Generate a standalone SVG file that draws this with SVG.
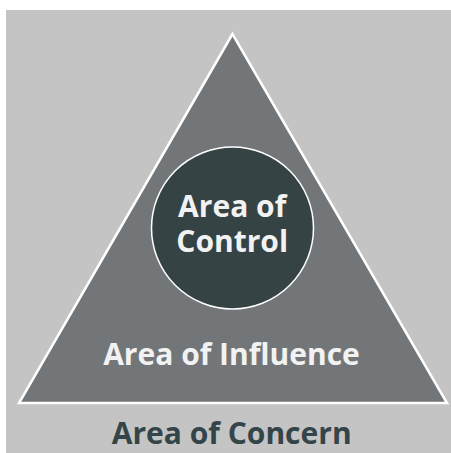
<svg xmlns="http://www.w3.org/2000/svg" width="451" height="453" viewBox="0 0 451 453">
<style>
.t{font-family:"Open Sans","Liberation Sans",sans-serif;font-weight:bold;text-anchor:middle;font-size:30px}
.w{fill:#f2f2f2}
</style>
<rect x="0" y="0" width="451" height="453" fill="#ffffff"/>
<g id="concern">
<rect x="6" y="10" width="445" height="443" fill="#c4c4c4"/>
<text class="t" x="231.7" y="444" fill="#34454a">Area of Concern</text>
</g>
<g id="influence">
<polygon points="232.5,34 19,403 447,403" fill="#737679" stroke="#ffffff" stroke-width="2.5" stroke-linejoin="miter"/>
<text class="t w" x="231.5" y="365">Area of Influence</text>
</g>
<g id="control">
<circle cx="232.5" cy="228" r="81" fill="#354345" stroke="#ffffff" stroke-width="1.5"/>
<text class="t w" x="232.2" y="216.7">Area of</text>
<text class="t w" x="232.2" y="252.3">Control</text>
</g>
</svg>
